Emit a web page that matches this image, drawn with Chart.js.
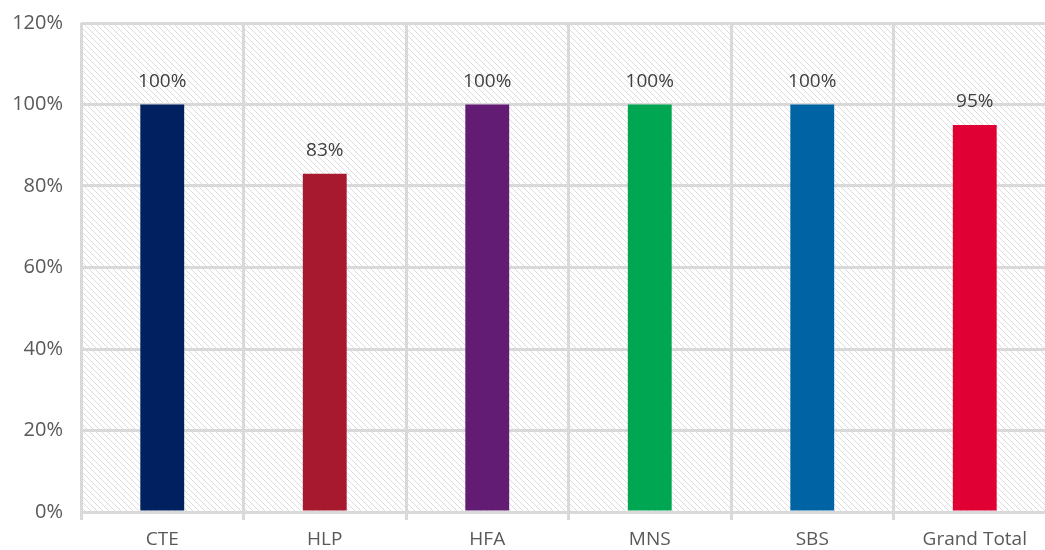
<!DOCTYPE html>
<html>
<head>
  <meta charset="UTF-8">
  <title>Completion by area</title>
  <style>
    html, body { margin: 0; padding: 0; background: #fff; }
    #wrap { width: 1045px; height: 550px; overflow: hidden; }
  </style>
</head>
<body>
<div id="wrap">
  <canvas id="myChart" width="1057" height="550"></canvas>
</div>
<script src="https://cdn.jsdelivr.net/npm/chart.js"></script>
<script>
const labels = ['CTE', 'HLP', 'HFA', 'MNS', 'SBS', 'Grand Total'];
const values = [1.00, 0.83, 1.00, 1.00, 1.00, 0.95];
const barColors = ['#002060', '#A6192E', '#621C74', '#00A651', '#0063A3', '#E00034'];
const yTicks = [0, 0.2, 0.4, 0.6, 0.8, 1.0, 1.2];

const FONT = "'Open Sans', 'DejaVu Sans', sans-serif";
const GRID = '#d9d9d9';

// diagonal hatch for the plot background
function makeHatch() {
  const s = 6;
  const c = document.createElement('canvas');
  c.width = s; c.height = s;
  const g = c.getContext('2d');
  g.strokeStyle = '#dcdcdc';
  g.lineWidth = 1;
  g.beginPath();
  g.moveTo(-1, -1); g.lineTo(s + 1, s + 1);
  g.moveTo(-1, s - 1); g.lineTo(1, s + 1);
  g.moveTo(s - 1, -1); g.lineTo(s + 1, 1);
  g.stroke();
  return g.createPattern(c, 'repeat');
}

const hatchPlugin = {
  id: 'hatch',
  beforeDraw(chart) {
    const a = chart.chartArea, ctx = chart.ctx;
    ctx.save();
    ctx.fillStyle = makeHatch();
    ctx.fillRect(a.left, a.top, a.right - a.left, a.bottom - a.top);
    ctx.restore();
  }
};

const valueLabels = {
  id: 'valueLabels',
  afterDatasetsDraw(chart) {
    const ctx = chart.ctx;
    const meta = chart.getDatasetMeta(0);
    ctx.save();
    ctx.font = '19px ' + FONT;
    ctx.fillStyle = '#404040';
    ctx.textAlign = 'center';
    ctx.textBaseline = 'alphabetic';
    meta.data.forEach((bar, i) => {
      const v = chart.data.datasets[0].data[i];
      ctx.fillText(Math.round(v * 100) + '%', bar.x, bar.y - 18);
    });
    ctx.restore();
  }
};

const myChart = new Chart(document.getElementById('myChart'), {
  type: 'bar',
  data: {
    labels: labels,
    datasets: [{
      data: values,
      backgroundColor: barColors,
      borderWidth: 0,
      barPercentage: 0.27,
      categoryPercentage: 1.0
    }]
  },
  options: {
    responsive: false,
    animation: false,
    layout: { padding: { top: 23, right: 1, left: 0, bottom: 0 } },
    plugins: {
      legend: { display: false },
      tooltip: { enabled: false }
    },
    scales: {
      x: {
        grid: { color: GRID, lineWidth: 3, offset: true, tickLength: 8 },
        border: { color: GRID, width: 3 },
        ticks: { color: '#595959', font: { family: FONT, size: 19 }, padding: 8 },
        afterFit(scale) { scale.height = 38; }
      },
      y: {
        min: 0,
        max: 1.2,
        afterBuildTicks(scale) { scale.ticks = yTicks.map(v => ({ value: v })); },
        grid: { color: GRID, lineWidth: 3, drawTicks: false },
        border: { display: false },
        ticks: {
          color: '#595959',
          font: { family: FONT, size: 20 },
          padding: 18,
          callback: v => Math.round(v * 100) + '%'
        },
        afterFit(scale) {
          scale.width = 81;
          scale.paddingTop = 0;
          scale.paddingBottom = 0;
        }
      }
    }
  },
  plugins: [hatchPlugin, valueLabels]
});
</script>
</body>
</html>
